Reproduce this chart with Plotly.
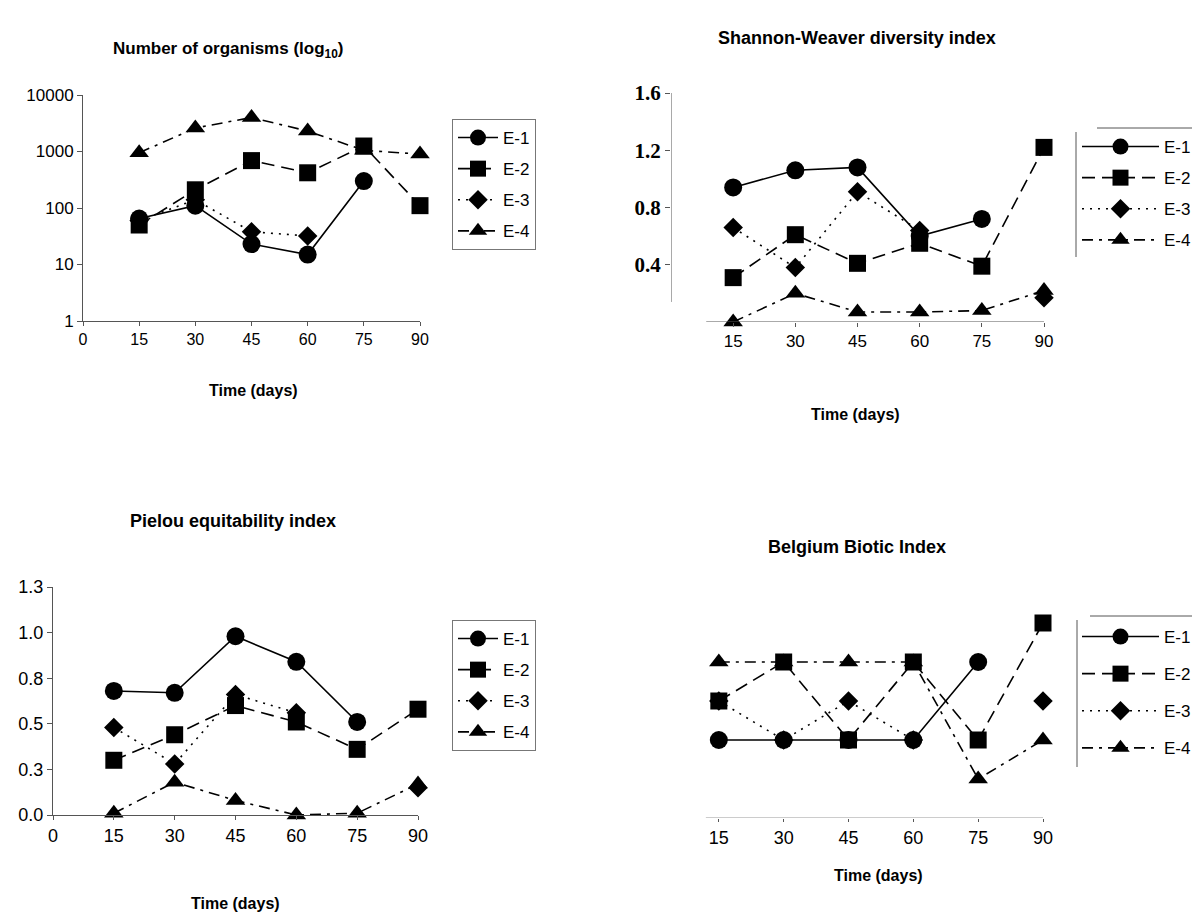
import plotly.graph_objects as go

# ---------------- data ----------------
days = [15, 30, 45, 60, 75, 90]
series_names = ["E-1", "E-2", "E-3", "E-4"]

# Number of organisms (log10 axis)
organisms_e1 = [65, 110, 23, 15, 300, None]
organisms_e2 = [50, 210, 690, 420, 1250, 110]
organisms_e3 = [60, 140, 38, 32, None, None]
organisms_e4 = [950, 2600, 4000, 2300, 1050, 900]

# Shannon-Weaver diversity index
shannon_e1 = [0.94, 1.06, 1.08, 0.60, 0.72, None]
shannon_e2 = [0.31, 0.61, 0.41, 0.55, 0.39, 1.22]
shannon_e3 = [0.66, 0.38, 0.91, 0.64, None, 0.17]
shannon_e4 = [0.00, 0.20, 0.07, 0.07, 0.08, 0.22]

# Pielou equitability index
pielou_e1 = [0.68, 0.67, 0.98, 0.84, 0.51, None]
pielou_e2 = [0.30, 0.44, 0.60, 0.51, 0.36, 0.58]
pielou_e3 = [0.48, 0.28, 0.66, 0.56, None, 0.15]
pielou_e4 = [0.01, 0.18, 0.08, 0.00, 0.01, 0.17]

# Belgium Biotic Index
bbi_e1 = [2, 2, 2, 2, 4, None]
bbi_e2 = [3, 4, 2, 4, 2, 5]
bbi_e3 = [3, 2, 3, 2, None, 3]
bbi_e4 = [4, 4, 4, 4, 1, 2]

# tick labels
organisms_ticks = [1, 10, 100, 1000, 10000]
organisms_ticktext = ["1", "10", "100", "1000", "10000"]
shannon_ticks = [0.4, 0.8, 1.2, 1.6]
shannon_ticktext = ["0.4", "0.8", "1.2", "1.6"]
pielou_ticks = [0.0, 0.25, 0.5, 0.75, 1.0, 1.25]
pielou_ticktext = ["0.0", "0.3", "0.5", "0.8", "1.0", "1.3"]
x_ticks_with_zero = [0, 15, 30, 45, 60, 75, 90]
x_ticks = [15, 30, 45, 60, 75, 90]

titles = ["Number of organisms (log<sub>10</sub>)", "Shannon-Weaver diversity index",
          "Pielou equitability index", "Belgium Biotic Index"]
x_title = "Time (days)"

# ---------------- styles ----------------
FONT = "Liberation Sans, Arial, sans-serif"
symbols = ["circle", "square", "diamond", "triangle-up"]
dashes = ["solid", "13px,7px", "2px,6px", "11px,6px,3px,6px"]
msizes = [18, 17, 15, 17]
AXC = "#555555"

panels = [
    ([organisms_e1, organisms_e2, organisms_e3, organisms_e4], "x", "y", "legend"),
    ([shannon_e1, shannon_e2, shannon_e3, shannon_e4], "x2", "y2", "legend2"),
    ([pielou_e1, pielou_e2, pielou_e3, pielou_e4], "x3", "y3", "legend3"),
    ([bbi_e1, bbi_e2, bbi_e3, bbi_e4], "x4", "y4", "legend4"),
]

fig = go.Figure()
for p, (series, xa, ya, lg) in enumerate(panels):
    for i, vals in enumerate(series):
        fig.add_trace(go.Scatter(
            x=days, y=vals, name=series_names[i], mode="lines+markers",
            xaxis=xa, yaxis=ya, legend=lg, legendgroup=f"p{p}s{i}",
            connectgaps=False, cliponaxis=False,
            line=dict(color="black", width=1.6, dash=dashes[i]),
            marker=dict(symbol=symbols[i], size=msizes[i], color="black"),
        ))

# page body adds an 8px offset; convert screen pixels to paper coordinates
OFF = 8

def px_x(px):
    return (px - OFF) / 1200.0

def px_y(py):
    return 1 - (py - OFF) / 914.0

tickfont = dict(family=FONT, size=17, color="black")

layout = dict(
    width=1200, height=914, autosize=False,
    margin=dict(l=0, r=0, t=0, b=0, autoexpand=False),
    paper_bgcolor="white", plot_bgcolor="white",
    showlegend=True,
    # panel 1
    xaxis=dict(domain=[px_x(83), px_x(420)], range=[0, 90], anchor="y",
               tickvals=x_ticks_with_zero, ticks="outside", ticklen=4, tickcolor=AXC,
               showline=True, linecolor=AXC, linewidth=1, showgrid=False, zeroline=False,
               tickfont=dict(family=FONT, size=16, color="black")),
    yaxis=dict(domain=[px_y(321), px_y(95)], type="log", range=[0, 4], anchor="x",
               tickvals=organisms_ticks, ticktext=organisms_ticktext,
               ticks="outside", ticklen=5, tickcolor=AXC,
               showline=True, linecolor=AXC, linewidth=1, showgrid=False, zeroline=False,
               tickfont=tickfont),
    # panel 2
    xaxis2=dict(domain=[px_x(671), px_x(1044)], range=[0, 90], anchor="y2",
                tickvals=x_ticks, ticks="outside", ticklen=4, tickcolor=AXC,
                showline=False, showgrid=False, zeroline=False,
                tickfont=tickfont),
    yaxis2=dict(domain=[px_y(322), px_y(93)], range=[0, 1.6], anchor="x2",
                tickvals=shannon_ticks, ticktext=shannon_ticktext,
                ticks="outside", ticklen=5, tickcolor=AXC,
                showline=False, showgrid=False, zeroline=False,
                tickfont=dict(family="Liberation Serif, Times New Roman, serif", size=21,
                              color="black", weight="bold")),
    # panel 3
    xaxis3=dict(domain=[px_x(53), px_x(418)], range=[0, 90], anchor="y3",
                tickvals=x_ticks_with_zero, ticks="outside", ticklen=4, tickcolor=AXC,
                showline=True, linecolor=AXC, linewidth=1, showgrid=False, zeroline=False,
                tickfont=dict(family=FONT, size=18, color="black")),
    yaxis3=dict(domain=[px_y(815), px_y(587)], range=[0, 1.25], anchor="x3",
                tickvals=pielou_ticks, ticktext=pielou_ticktext,
                ticks="outside", ticklen=5, tickcolor=AXC,
                showline=True, linecolor=AXC, linewidth=1, showgrid=False, zeroline=False,
                tickfont=dict(family=FONT, size=18, color="black")),
    # panel 4
    xaxis4=dict(domain=[px_x(654), px_x(1043)], range=[0, 90], anchor="y4",
                tickvals=x_ticks, ticks="outside", ticklen=3, tickcolor=AXC,
                showline=False, showgrid=False, zeroline=False,
                tickfont=dict(family=FONT, size=18, color="black")),
    yaxis4=dict(domain=[px_y(818), px_y(623)], range=[0, 5], anchor="x4",
                visible=False, showgrid=False, zeroline=False),
)

legend_common = dict(font=dict(family=FONT, size=17, color="black"),
                     xanchor="left", yanchor="top", traceorder="grouped",
                     bgcolor="rgba(0,0,0,0)")
layout["legend"] = dict(x=px_x(452), y=px_y(119), bordercolor="#777777", borderwidth=1,
                        tracegroupgap=6, itemwidth=40, **legend_common)
layout["legend2"] = dict(x=px_x(1077), y=px_y(129), borderwidth=0,
                         tracegroupgap=6, itemwidth=77, **legend_common)
layout["legend3"] = dict(x=px_x(452), y=px_y(620), bordercolor="#777777", borderwidth=1,
                         tracegroupgap=6, itemwidth=40, **legend_common)
layout["legend4"] = dict(x=px_x(1077), y=px_y(619), borderwidth=0,
                         tracegroupgap=12, itemwidth=77, **legend_common)

fig.update_layout(**layout)

# panel titles and axis titles
title_pos = [(228, 50), (857, 38), (233, 521), (857, 547)]
title_sizes = [17, 18, 18, 18]
xtitle_pos = [(254, 390), (855, 415), (235, 903), (878, 875)]
for t, (tx, ty), fs in zip(titles, title_pos, title_sizes):
    fig.add_annotation(text=f"<b>{t}</b>", x=px_x(tx), y=px_y(ty), xref="paper", yref="paper",
                       showarrow=False, xanchor="center", yanchor="middle",
                       font=dict(family=FONT, size=fs, color="black"))
for (tx, ty) in xtitle_pos:
    fig.add_annotation(text=f"<b>{x_title}</b>", x=px_x(tx), y=px_y(ty), xref="paper", yref="paper",
                       showarrow=False, xanchor="center", yanchor="middle",
                       font=dict(family=FONT, size=16, color="black"))

# partial axis lines (panels 2 and 4) and partial legend frames
line_style = dict(color=AXC, width=1)
fig.add_shape(type="line", xref="x2", yref="y2", x0=0, x1=0, y0=0.14, y1=1.6, line=line_style)
fig.add_shape(type="line", xref="x2", yref="y2", x0=8.5, x1=90, y0=0, y1=0, line=line_style)
fig.add_shape(type="line", xref="x4", yref="y4", x0=12, x1=90, y0=0, y1=0,
              line=dict(color="#999999", width=1.2))
fig.add_shape(type="line", xref="paper", yref="paper", x0=px_x(1097), x1=1,
              y0=px_y(128), y1=px_y(128), line=line_style)
fig.add_shape(type="line", xref="paper", yref="paper", x0=px_x(1076), x1=px_x(1076),
              y0=px_y(132), y1=px_y(257), line=line_style)
fig.add_shape(type="line", xref="paper", yref="paper", x0=px_x(1090), x1=1,
              y0=px_y(616), y1=px_y(616), line=line_style)
fig.add_shape(type="line", xref="paper", yref="paper", x0=px_x(1077), x1=px_x(1077),
              y0=px_y(620), y1=px_y(767), line=line_style)

fig.write_html("out.html")
